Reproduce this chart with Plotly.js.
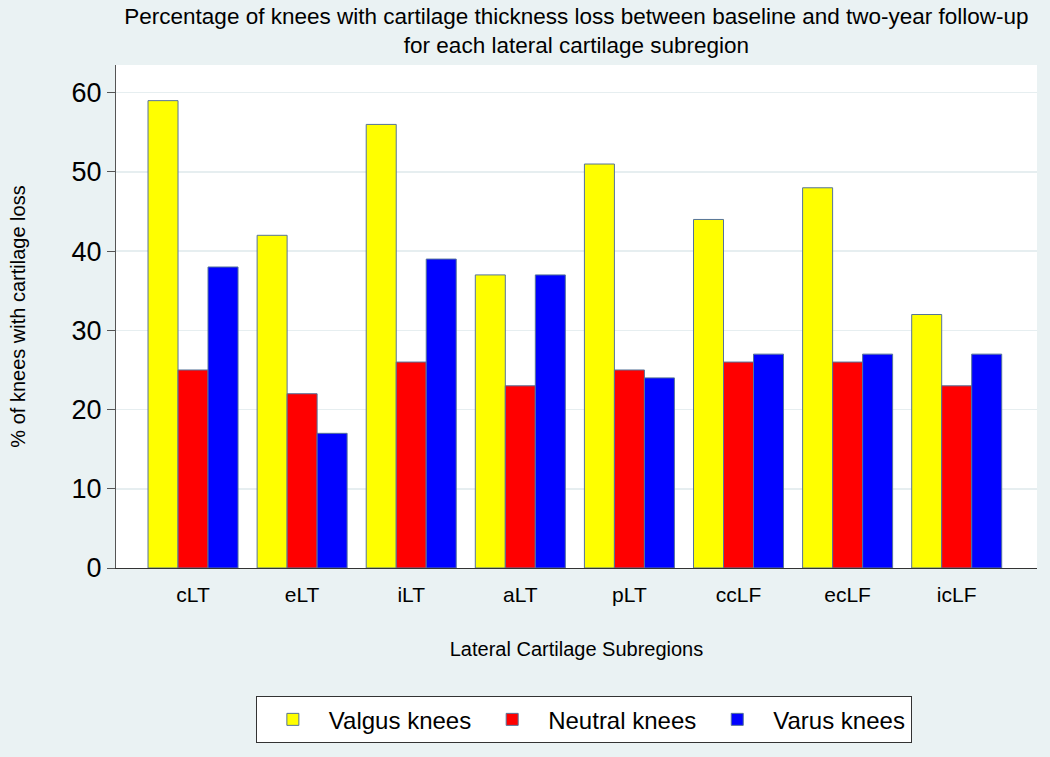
<!DOCTYPE html>
<html>
<head>
<meta charset="utf-8">
<script src="https://cdn.plot.ly/plotly-3.0.1.min.js"></script>
<style>html,body{margin:0;padding:0;background:#EAF2F3;}#chart{width:1050px;height:757px;}</style>
</head>
<body>
<div id="chart"></div>
<script>
var subregions = ["cLT", "eLT", "iLT", "aLT", "pLT", "ccLF", "ecLF", "icLF"];
var valgus  = [59, 42, 56, 37, 51, 44, 48, 32];
var neutral = [25, 22, 26, 23, 25, 26, 26, 23];
var varus   = [38, 17, 39, 37, 24, 27, 27, 27];
var seriesNames = ["Valgus knees", "Neutral knees", "Varus knees"];
var yTicks = [0, 10, 20, 30, 40, 50, 60];

var outline = {color: "#55739A", width: 1};
var traces = [
  {type: "bar", name: seriesNames[0], x: subregions, y: valgus, marker: {color: "#FFFF00", line: outline}},
  {type: "bar", name: seriesNames[1], x: subregions, y: neutral, marker: {color: "#FF0000", line: outline}},
  {type: "bar", name: seriesNames[2], x: subregions, y: varus, marker: {color: "#0000FF", line: outline}}
];

var layout = {
  width: 1050, height: 757,
  paper_bgcolor: "#EAF2F3",
  plot_bgcolor: "#FFFFFF",
  margin: {l: 116, r: 13, t: 65, b: 189},
  barmode: "group",
  bargap: 0.175,
  bargroupgap: 0,
  font: {family: "Liberation Sans, Arial, sans-serif", color: "#000"},
  title: {
    text: "Percentage of knees with cartilage thickness loss between baseline and two-year follow-up<br>for each lateral cartilage subregion",
    font: {family: "Liberation Sans Narrow, Arial Narrow, Liberation Sans, sans-serif", size: 22.5, color: "#000"},
    x: 0.549, xanchor: "center", xref: "container",
    y: 0.968, yanchor: "middle", yref: "container"
  },
  xaxis: {
    type: "category",
    range: [-0.706, 7.736],
    showline: true, linecolor: "#333", linewidth: 1,
    ticks: "", showgrid: false,
    tickfont: {size: 21},
    ticklabelstandoff: 8,
    title: {text: "Lateral Cartilage Subregions", font: {size: 20}, standoff: 36},
    fixedrange: true
  },
  yaxis: {
    range: [0, 63.5],
    tickvals: yTicks,
    ticktext: yTicks.map(String),
    showline: true, linecolor: "#555", linewidth: 1,
    ticks: "outside", ticklen: 8, tickcolor: "#555",
    showgrid: true, gridcolor: "#E6EEF0", gridwidth: 1.5,
    zeroline: false,
    tickfont: {size: 27},
    title: {text: "% of knees with cartilage loss", font: {size: 20}, standoff: 40}
  },
  showlegend: true,
  legend: {
    orientation: "h",
    x: 0.508, xanchor: "center",
    y: -0.255, yanchor: "top",
    bgcolor: "#FFFFFF",
    bordercolor: "#333", borderwidth: 1,
    font: {size: 24},
    itemwidth: 62,
    traceorder: "normal"
  }
};

Plotly.newPlot("chart", traces, layout, {displayModeBar: false, staticPlot: true});
</script>
</body>
</html>
